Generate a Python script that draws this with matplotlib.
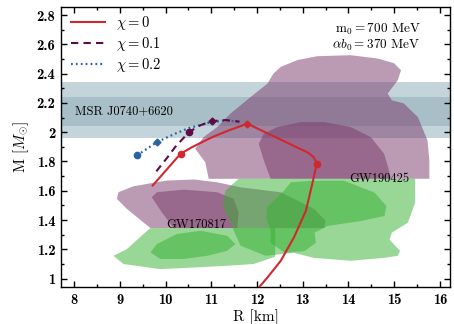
import matplotlib
matplotlib.use("Agg")
import matplotlib.pyplot as plt
from matplotlib.ticker import FixedLocator, MultipleLocator

plt.rcParams['font.family'] = 'serif'
plt.rcParams['font.serif'] = ['cmr10', 'DejaVu Serif']
plt.rcParams['mathtext.fontset'] = 'cm'
plt.rcParams['axes.unicode_minus'] = False
plt.rcParams['axes.formatter.use_mathtext'] = True

# mass-radius curves (R [km], M [Msun])
r_chi0 = [12.04, 12.23, 12.52, 12.81, 13.07, 13.21, 13.31, 13.24, 13.12, 11.79,
          11.38, 11.02, 10.58, 10.33, 9.72]
m_chi0 = [0.939, 1.008, 1.122, 1.282, 1.464, 1.647, 1.786, 1.83, 1.86, 2.058,
          2.012, 1.966, 1.898, 1.853, 1.636]
r_chi01 = [9.80, 10.03, 10.21, 10.51, 10.76, 11.02, 11.31, 11.62]
m_chi01 = [1.733, 1.823, 1.898, 2.0, 2.047, 2.076, 2.083, 2.072]
r_chi02 = [9.375, 9.81, 10.21, 10.51, 10.95, 11.31, 11.62]
m_chi02 = [1.841, 1.932, 1.99, 2.028, 2.065, 2.081, 2.072]

# special points on each curve: circles (onset) and diamonds (maximum)
circ_r = {'0': [13.31, 10.33], '0.1': [10.51], '0.2': [9.375]}
circ_m = {'0': [1.786, 1.853], '0.1': [2.0], '0.2': [1.841]}
diam_r = {'0': [11.79], '0.1': [11.02], '0.2': [9.81]}
diam_m = {'0': [2.058], '0.1': [2.076], '0.2': [1.932]}

# MSR J0740+6620 mass bands
msr_95 = (1.96, 2.343)
msr_68 = (2.042, 2.238)

# GW190425 heavier component (purple)
gw425_p90_r = [10.945, 10.87, 10.65, 10.83, 11.13, 11.42, 11.86, 12.23, 12.36, 12.52,
               12.88, 13.32, 14.05, 14.64, 15.0, 15.15, 15.08, 14.86, 14.95, 15.21,
               15.52, 15.73, 15.77, 15.77]
gw425_p90_m = [1.682, 1.795, 1.887, 1.966, 2.035, 2.127, 2.24, 2.332, 2.40, 2.446,
               2.492, 2.519, 2.526, 2.503, 2.471, 2.423, 2.355, 2.264, 2.218, 2.197,
               2.103, 1.944, 1.807, 1.682]
gw425_p50_r = [12.30, 12.15, 12.04, 12.15, 12.445, 12.96, 13.47, 14.05, 14.49, 14.78,
               14.89, 14.93]
gw425_p50_m = [1.682, 1.807, 1.921, 1.99, 2.035, 2.069, 2.069, 2.035, 1.966, 1.853,
               1.738, 1.682]

# GW170817 heavier component (purple)
gw817_p90_r = [8.936, 8.97, 9.30, 10.03, 10.62, 11.13, 11.64, 12.52, 13.25, 13.50,
               13.47, 9.67, 9.156]
gw817_p90_m = [1.545, 1.59, 1.631, 1.670, 1.677, 1.658, 1.624, 1.59, 1.476, 1.396,
               1.345, 1.345, 1.476]
gw817_p50_r = [9.70, 9.81, 10.40, 11.13, 11.49, 11.60, 11.57, 10.18, 9.92]
gw817_p50_m = [1.556, 1.59, 1.608, 1.59, 1.545, 1.453, 1.345, 1.345, 1.453]

# GW170817 lighter component (green)
gw817_g90_r = [9.67, 9.52, 9.156, 8.86, 9.08, 9.886, 10.62, 11.35, 11.93, 12.4, 12.4]
gw817_g90_m = [1.345, 1.305, 1.202, 1.156, 1.10, 1.065, 1.076, 1.088, 1.10, 1.15, 1.345]
gw817_g50_r = [9.67, 9.81, 10.25, 10.76, 11.35, 11.53, 11.35, 10.91, 10.40, 9.886]
gw817_g50_m = [1.179, 1.236, 1.305, 1.327, 1.293, 1.236, 1.19, 1.156, 1.134, 1.134]

# GW190425 lighter component (green)
gw425_g90_r = [11.6, 11.31, 11.25, 11.64, 12.19, 12.8, 13.24, 14.05, 14.78, 15.08,
               15.13, 14.9, 14.95, 15.3, 15.46, 15.46]
gw425_g90_m = [1.682, 1.60, 1.499, 1.225, 1.156, 1.177, 1.142, 1.122, 1.142, 1.156,
               1.19, 1.266, 1.314, 1.382, 1.519, 1.682]
gw425_g50_r = [12.22, 12.59, 12.74, 13.18, 13.91, 14.57, 14.83, 14.79, 14.28, 13.55,
               13.26, 13.29, 13.04, 12.6, 12.3, 12.30, 12.2]
gw425_g50_m = [1.487, 1.60, 1.658, 1.668, 1.668, 1.588, 1.497, 1.428, 1.394, 1.36,
               1.314, 1.245, 1.188, 1.177, 1.245, 1.327, 1.42]

x_ticks = [8, 9, 10, 11, 12, 13, 14, 15, 16]
y_ticks = [1.0, 1.2, 1.4, 1.6, 1.8, 2.0, 2.2, 2.4, 2.6, 2.8]
y_labels = ['1', '1.2', '1.4', '1.6', '1.8', '2', '2.2', '2.4', '2.6', '2.8']

red = '#d0282e'
plum = '#5e0c47'
blue = '#2b65a0'
purple_fill = '#793769'
green_fill = '#35b131'

fig = plt.figure(figsize=(4.54, 3.24), dpi=100)
ax = fig.add_axes([0.1344, 0.1142, 0.8566, 0.8642])

ax.axhspan(*msr_95, color='#c4d4db', lw=0, zorder=0)
ax.axhspan(*msr_68, color='#a8bfc8', lw=0, zorder=0.1)

for rr, mm in [(gw425_p90_r, gw425_p90_m), (gw425_p50_r, gw425_p50_m),
               (gw817_p90_r, gw817_p90_m), (gw817_p50_r, gw817_p50_m)]:
    ax.fill(rr, mm, color=purple_fill, alpha=0.5, lw=0, zorder=1)
for rr, mm in [(gw817_g90_r, gw817_g90_m), (gw817_g50_r, gw817_g50_m),
               (gw425_g90_r, gw425_g90_m), (gw425_g50_r, gw425_g50_m)]:
    ax.fill(rr, mm, color=green_fill, alpha=0.5, lw=0, zorder=2)

ax.plot(r_chi02, m_chi02, ls=(0, (0.8, 1.4)), color=blue, lw=1.6, zorder=3,
        label=r'$\chi = 0.2$')
ax.plot(r_chi01, m_chi01, ls=(0, (3.5, 2.5)), color=plum, lw=1.5, zorder=4,
        label=r'$\chi = 0.1$')
ax.plot(r_chi0, m_chi0, ls='-', color=red, lw=1.5, zorder=5, label=r'$\chi = 0$')

for key, col, z in [('0.2', blue, 3), ('0.1', plum, 4), ('0', red, 5)]:
    ax.plot(circ_r[key], circ_m[key], 'o', color=col, ms=4.5, zorder=z)
    ax.plot(diam_r[key], diam_m[key], 'D', color=col, ms=3.5, zorder=z)

h, l = ax.get_legend_handles_labels()
ax.legend(h[::-1], l[::-1], loc='upper left', frameon=False, fontsize=10.5,
          handlelength=2.3, borderaxespad=0.3, labelspacing=0.2,
          bbox_to_anchor=(0.0, 1.01))

ax.text(8.02, 2.142, 'MSR J0740+6620', fontsize=9, va='center', ha='left', zorder=6)
ax.text(10.01, 1.365, 'GW170817', fontsize=9, va='center', ha='left', zorder=6)
ax.text(14.02, 1.68, 'GW190425', fontsize=9, va='center', ha='left', zorder=6)
ax.text(15.58, 2.704, r'$\mathrm{m}_0 = 700$ MeV', fontsize=9.5, va='center', ha='right')
ax.text(15.58, 2.592, r'$\alpha b_0 = 370$ MeV', fontsize=9.5, va='center', ha='right')

ax.set_xlim(7.715, 16.22)
ax.set_ylim(0.943, 2.855)
ax.xaxis.set_major_locator(FixedLocator(x_ticks))
ax.xaxis.set_minor_locator(MultipleLocator(0.5))
ax.yaxis.set_major_locator(FixedLocator(y_ticks))
ax.yaxis.set_minor_locator(MultipleLocator(0.1))
ax.set_xticklabels([str(t) for t in x_ticks])
ax.set_yticklabels(y_labels)
for lab in ax.get_xticklabels() + ax.get_yticklabels():
    lab.set_fontfamily('cmb10')
    lab.set_fontsize(10.5)
ax.tick_params(which='both', direction='in', top=True, right=True, width=1.0)
ax.tick_params(which='major', length=4.5, pad=4)
ax.tick_params(which='minor', length=2.3)
for s in ax.spines.values():
    s.set_linewidth(1.0)

ax.set_xlabel('R [km]', fontsize=11, labelpad=2)
ax.set_ylabel(r'M [$M_{\odot}$]', fontsize=11, labelpad=4)

fig.savefig('out.png', dpi=100)
